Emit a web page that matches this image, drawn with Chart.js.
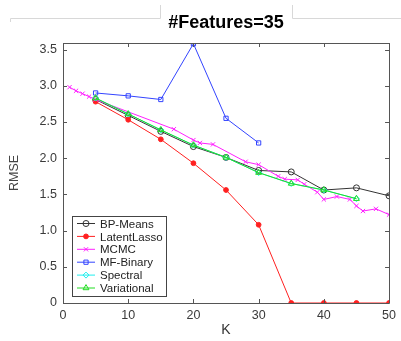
<!DOCTYPE html>
<html>
<head>
<meta charset="utf-8">
<script src="https://cdn.jsdelivr.net/npm/chart.js@4/dist/chart.umd.min.js"></script>
<style>
  html, body { margin: 0; padding: 0; background: #fff; }
  #wrap { position: relative; width: 401px; height: 341px; }
</style>
</head>
<body>
<div id="wrap"><canvas id="chart" width="401" height="341"></canvas></div>
<script>
// values
const xTicks = [0, 10, 20, 30, 40, 50];
const yTicks = [0, 0.5, 1, 1.5, 2, 2.5, 3, 3.5];

const kStep = [5, 10, 15, 20, 25, 30, 35, 40, 45, 50];
const bpMeans = [2.81, 2.59, 2.37, 2.16, 2.01, 1.83, 1.81, 1.56, 1.59, 1.48];
const latentLasso = [2.78, 2.53, 2.26, 1.93, 1.56, 1.08, 0, 0, 0, 0];

const kMcmc = [1, 2, 3, 4, 5, 17, 20, 21, 23, 28, 30, 33, 34, 36, 37, 39, 40, 42, 44, 45, 46, 48, 50];
const mcmc = [2.98, 2.93, 2.89, 2.85, 2.81, 2.40, 2.25, 2.21, 2.19, 1.95, 1.91, 1.75, 1.71, 1.70, 1.64, 1.53, 1.43, 1.47, 1.43, 1.34, 1.27, 1.30, 1.22];

const kBinary = [5, 10, 15, 20, 25, 30];
const mfBinary = [2.90, 2.86, 2.81, 3.58, 2.55, 2.21];

const kVar = [5, 10, 15, 20, 25, 30, 35, 40, 45];
const spectral = [2.83, 2.61, 2.39, 2.18, 2.01, 1.80, 1.65, 1.56, 1.44];
const variational = [2.83, 2.61, 2.39, 2.18, 2.01, 1.80, 1.65, 1.56, 1.44];

const pts = (xs, ys) => xs.map((x, i) => ({ x: x, y: ys[i] }));

const series = [
    { label: 'BP-Means', xs: kStep, ys: bpMeans, color: '#333333', style: 'circle', fill: false, r: 3 },
    { label: 'LatentLasso', xs: kStep, ys: latentLasso, color: '#ff2020', style: 'circle', fill: true, r: 2.4 },
    { label: 'MCMC', xs: kMcmc, ys: mcmc, color: '#ff20ff', style: 'crossRot', fill: false, r: 3 },
    { label: 'MF-Binary', xs: kBinary, ys: mfBinary, color: '#3344ff', style: 'rect', fill: false, r: 3 },
    { label: 'Spectral', xs: kVar, ys: spectral, color: '#22eeee', style: 'rectRot', fill: false, r: 3 },
    { label: 'Variational', xs: kVar, ys: variational, color: '#22dd22', style: 'triangle', fill: false, r: 3.4 },
];

const FONT = '"Liberation Sans", Arial, Helvetica, sans-serif';

function marker(ctx, s, x, y) {
    Chart.helpers.drawPoint(ctx, {
        pointStyle: s.style,
        radius: s.r,
        rotation: 0,
        borderWidth: 1,
    }, x, y);
}

// title, matlab style box ticks, legend
const decorations = {
    id: 'decorations',
    beforeDraw(chart) {
        const ctx = chart.ctx;
        ctx.save();
        ctx.strokeStyle = '#d8d8d8';
        ctx.lineWidth = 1;
        ctx.beginPath();
        ctx.moveTo(10.5, 22); ctx.lineTo(10.5, 18.5); ctx.lineTo(160.5, 18.5); ctx.lineTo(160.5, 5);
        ctx.moveTo(292.5, 5); ctx.lineTo(292.5, 18.5); ctx.lineTo(401, 18.5);
        ctx.stroke();
        ctx.restore();
    },
    afterDatasetsDraw(chart) {
        const ctx = chart.ctx;
        const a = chart.chartArea;
        const xs = chart.scales.x;
        const ys = chart.scales.y;
        ctx.save();

        // box and inward ticks
        ctx.strokeStyle = '#555';
        ctx.lineWidth = 1;
        ctx.beginPath();
        ctx.rect(Math.round(a.left) + 0.5, Math.round(a.top) + 0.5,
            Math.round(a.right - a.left), Math.round(a.bottom - a.top));
        xTicks.forEach((v) => {
            const px = Math.round(xs.getPixelForValue(v)) + 0.5;
            ctx.moveTo(px, a.bottom); ctx.lineTo(px, a.bottom - 4);
            ctx.moveTo(px, a.top); ctx.lineTo(px, a.top + 4);
        });
        yTicks.forEach((v) => {
            const py = Math.round(ys.getPixelForValue(v)) + 0.5;
            ctx.moveTo(a.left, py); ctx.lineTo(a.left + 4, py);
            ctx.moveTo(a.right, py); ctx.lineTo(a.right - 4, py);
        });
        ctx.stroke();

        // title
        ctx.fillStyle = '#000';
        ctx.font = 'bold 18px ' + FONT;
        ctx.textAlign = 'center';
        ctx.textBaseline = 'middle';
        ctx.fillText('#Features=35', 226, 23);

        // legend
        const lx = 72.5, ly = 216.5, lw = 94, lh = 80;
        ctx.fillStyle = '#fff';
        ctx.fillRect(lx, ly, lw, lh);
        ctx.strokeStyle = '#444';
        ctx.strokeRect(lx, ly, lw, lh);
        ctx.font = '11.5px ' + FONT;
        ctx.textAlign = 'left';
        series.forEach((s, i) => {
            const y = 223.5 + i * 12.9;
            ctx.strokeStyle = s.color;
            ctx.fillStyle = s.fill ? s.color : 'rgba(0,0,0,0)';
            ctx.lineWidth = 1;
            ctx.beginPath();
            ctx.moveTo(77, y); ctx.lineTo(95, y);
            ctx.stroke();
            marker(ctx, s, 86, y);
            ctx.fillStyle = '#222';
            ctx.fillText(s.label, 100, y + 1);
        });
        ctx.restore();
    },
};

const n = series.length;
new Chart(document.getElementById('chart'), {
    type: 'line',
    data: {
        datasets: series.map((s, i) => ({
            label: s.label,
            data: pts(s.xs, s.ys),
            borderColor: s.color,
            backgroundColor: s.fill ? s.color : 'rgba(255,255,255,0)',
            pointBorderColor: s.color,
            pointBackgroundColor: s.fill ? s.color : 'rgba(255,255,255,0)',
            pointStyle: s.style,
            pointRadius: s.r,
            pointBorderWidth: 1,
            borderWidth: 1,
            tension: 0,
            fill: false,
            order: n - i,
        })),
    },
    options: {
        responsive: false,
        animation: false,
        layout: { padding: { top: 43, right: 10, left: 0, bottom: 0 } },
        plugins: {
            legend: { display: false },
            tooltip: { enabled: false },
            title: { display: false },
        },
        scales: {
            x: {
                type: 'linear',
                min: 0,
                max: 50,
                afterFit: (scale) => { scale.height = 38; },
                afterBuildTicks: (scale) => { scale.ticks = xTicks.map((v) => ({ value: v })); },
                grid: { display: false, drawTicks: false },
                border: { display: false },
                ticks: { color: '#3a3a3a', padding: 5, font: { family: FONT, size: 12.5 } },
                title: {
                    display: true,
                    text: 'K',
                    color: '#333',
                    padding: { top: 0, bottom: 2 },
                    font: { family: FONT, size: 14 },
                },
            },
            y: {
                type: 'linear',
                min: 0,
                max: 3.59,
                afterFit: (scale) => { scale.width = 63; },
                afterBuildTicks: (scale) => { scale.ticks = yTicks.map((v) => ({ value: v })); },
                grid: { display: false, drawTicks: false },
                border: { display: false },
                ticks: { color: '#3a3a3a', padding: 6, font: { family: FONT, size: 12.5 } },
                title: {
                    display: true,
                    text: 'RMSE',
                    color: '#444',
                    padding: { top: 7, bottom: 0 },
                    font: { family: FONT, size: 12.5 },
                },
            },
        },
    },
    plugins: [decorations],
});
</script>
</body>
</html>
